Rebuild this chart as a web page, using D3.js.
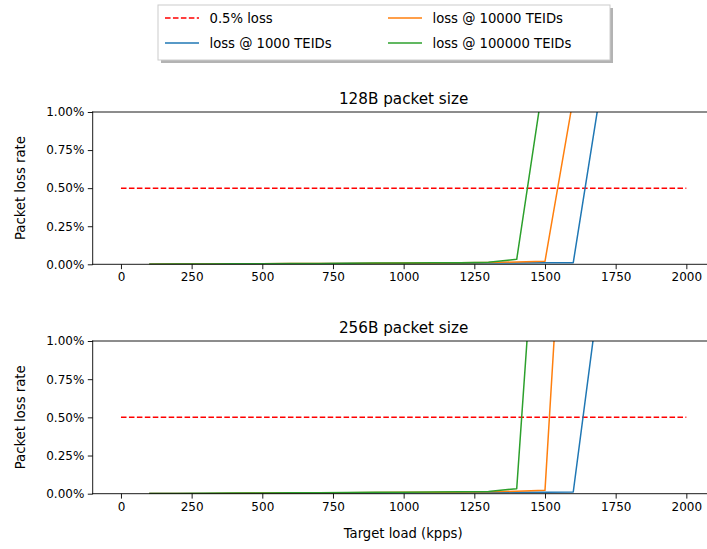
<!DOCTYPE html>
<html>
<head>
<meta charset="utf-8">
<script src="https://cdn.jsdelivr.net/npm/d3@7"></script>
<style>
  html, body { margin: 0; padding: 0; background: #fff; }
  svg { display: block; font-family: "DejaVu Sans", sans-serif; }
</style>
</head>
<body>
<svg id="chart" width="707" height="549"></svg>
<script>
// ---- data (loss rate in %) ----
const loads = [100, 200, 300, 400, 500, 600, 700, 800, 900, 1000, 1100, 1200, 1300, 1400, 1500, 1600, 1700, 1800, 1900, 2000];
const xTicks = [0, 250, 500, 750, 1000, 1250, 1500, 1750, 2000];
const yTicks = [0, 0.25, 0.5, 0.75, 1.0];
const thresholdLoss = 0.5;
const panelTitles = ["128B packet size", "256B packet size"];
const seriesNames = ["loss @ 1000 TEIDs", "loss @ 10000 TEIDs", "loss @ 100000 TEIDs"];
const seriesColors = ["#1f77b4", "#ff7f0e", "#2ca02c"];

// 128B
const loss128_1000   = [0.001, 0.001, 0.002, 0.002, 0.003, 0.004, 0.004, 0.005, 0.005, 0.006, 0.006, 0.007, 0.008, 0.009, 0.010, 0.011, 1.18, 2.4, 3.5, 4.6];
const loss128_10000  = [0.001, 0.002, 0.002, 0.003, 0.004, 0.005, 0.006, 0.006, 0.007, 0.008, 0.009, 0.010, 0.012, 0.015, 0.020, 1.09, 2.2, 3.3, 4.4, 5.4];
const loss128_100000 = [0.001, 0.002, 0.002, 0.003, 0.004, 0.005, 0.006, 0.007, 0.008, 0.009, 0.010, 0.011, 0.013, 0.033, 1.27, 2.4, 3.5, 4.6, 5.6, 6.6];
// 256B
const loss256_1000   = [0.001, 0.001, 0.002, 0.002, 0.003, 0.004, 0.004, 0.005, 0.005, 0.006, 0.006, 0.007, 0.008, 0.009, 0.010, 0.011, 1.43, 3.0, 4.4, 5.7];
const loss256_10000  = [0.001, 0.002, 0.002, 0.003, 0.004, 0.005, 0.006, 0.007, 0.008, 0.009, 0.010, 0.011, 0.013, 0.016, 0.022, 3.08, 5.8, 8.2, 10.3, 12.2];
const loss256_100000 = [0.001, 0.002, 0.003, 0.004, 0.005, 0.006, 0.007, 0.008, 0.009, 0.010, 0.011, 0.012, 0.014, 0.033, 2.7, 5.3, 7.6, 9.7, 11.6, 13.3];

const panels = [
  { title: panelTitles[0], series: [loss128_1000, loss128_10000, loss128_100000] },
  { title: panelTitles[1], series: [loss256_1000, loss256_10000, loss256_100000] }
];

// ---- layout ----
const svg = d3.select("#chart");
const left = 92.7, right = 714.6;
const panelBoxes = [{ top: 112, bottom: 264.3 }, { top: 341, bottom: 493.7 }];
const x = d3.scaleLinear().domain([-100, 2100]).range([left, right]);

panels.forEach((p, i) => {
  const box = panelBoxes[i];
  const y = d3.scaleLinear().domain([0, 1]).range([box.bottom, box.top]);
  const g = svg.append("g");

  const clipId = "clip" + i;
  svg.append("clipPath").attr("id", clipId)
    .append("rect").attr("x", left).attr("y", box.top)
    .attr("width", right - left).attr("height", box.bottom - box.top);

  const plot = g.append("g").attr("clip-path", `url(#${clipId})`);

  // threshold line
  plot.append("line")
    .attr("x1", x(0)).attr("x2", x(2000))
    .attr("y1", y(thresholdLoss)).attr("y2", y(thresholdLoss))
    .attr("stroke", "#ff0000").attr("stroke-width", 1.5)
    .attr("stroke-dasharray", "5.55,2.4");

  const line = d3.line().x((d, k) => x(loads[k])).y(d => y(d));
  p.series.forEach((s, k) => {
    plot.append("path").datum(s)
      .attr("d", line)
      .attr("fill", "none")
      .attr("stroke", seriesColors[k])
      .attr("stroke-width", 1.5)
      .attr("stroke-linejoin", "round");
  });

  // spines
  [[left, box.top, left, box.bottom], [left, box.bottom, right, box.bottom],
   [left, box.top, right, box.top], [right, box.top, right, box.bottom]].forEach(c => {
    g.append("line").attr("x1", c[0]).attr("y1", c[1]).attr("x2", c[2]).attr("y2", c[3])
      .attr("stroke", "#000").attr("stroke-width", 0.9).attr("stroke-linecap", "square");
  });

  // x axis
  const xAxis = d3.axisBottom(x).tickValues(xTicks).tickSize(4.9).tickPadding(3.5).tickFormat(d3.format("d"));
  const xg = g.append("g").attr("transform", `translate(0,${box.bottom})`).call(xAxis);
  xg.select(".domain").remove();
  xg.selectAll(".tick line").attr("stroke", "#000").attr("stroke-width", 0.9);
  xg.selectAll(".tick text").attr("font-size", 12).attr("fill", "#000")
    .attr("font-family", "DejaVu Sans");

  // y axis
  const yAxis = d3.axisLeft(y).tickValues(yTicks).tickSize(4.9).tickPadding(3.5)
    .tickFormat(d => d3.format(".2f")(d) + "%");
  const yg = g.append("g").attr("transform", `translate(${left},0)`).call(yAxis);
  yg.select(".domain").remove();
  yg.selectAll(".tick line").attr("stroke", "#000").attr("stroke-width", 0.9);
  yg.selectAll(".tick text").attr("font-size", 12).attr("fill", "#000")
    .attr("font-family", "DejaVu Sans");

  // title
  g.append("text").attr("x", (left + right) / 2).attr("y", box.top - 8)
    .attr("text-anchor", "middle").attr("font-size", 15.2).attr("fill", "#000")
    .text(p.title);

  // y label
  g.append("text")
    .attr("transform", `translate(24.5,${(box.top + box.bottom) / 2}) rotate(-90)`)
    .attr("text-anchor", "middle").attr("font-size", 13.2).attr("fill", "#000")
    .text("Packet loss rate");
});

// x label
svg.append("text").attr("x", (left + right) / 2 - 0.5).attr("y", 537.5)
  .attr("text-anchor", "middle").attr("font-size", 13.2).attr("fill", "#000")
  .text("Target load (kpps)");

// ---- legend ----
const legendItems = [
  { name: "0.5% loss", color: "#ff0000", dash: "5.55,2.4" },
  { name: seriesNames[0], color: seriesColors[0], dash: null },
  { name: seriesNames[1], color: seriesColors[1], dash: null },
  { name: seriesNames[2], color: seriesColors[2], dash: null }
];
const lg = svg.append("g");
const lx = 158, ly = 5, lw = 452, lh = 55;
lg.append("rect").attr("x", lx + 3).attr("y", ly + 3).attr("width", lw).attr("height", lh)
  .attr("fill", "#b3b3b3");
lg.append("rect").attr("x", lx).attr("y", ly).attr("width", lw).attr("height", lh)
  .attr("fill", "#fff").attr("stroke", "#cccccc").attr("stroke-width", 1);
const colX = [165, 388], rowY = [18, 43];
legendItems.forEach((it, i) => {
  const c = Math.floor(i / 2), r = i % 2;
  const hx = colX[c], hy = rowY[r];
  lg.append("line").attr("x1", hx).attr("x2", hx + 34).attr("y1", hy).attr("y2", hy)
    .attr("stroke", it.color).attr("stroke-width", 1.5)
    .attr("stroke-dasharray", it.dash);
  lg.append("text").attr("x", hx + 44.5).attr("y", hy).attr("dy", "0.36em")
    .attr("font-size", 13.2).attr("fill", "#000").text(it.name);
});
</script>
</body>
</html>
